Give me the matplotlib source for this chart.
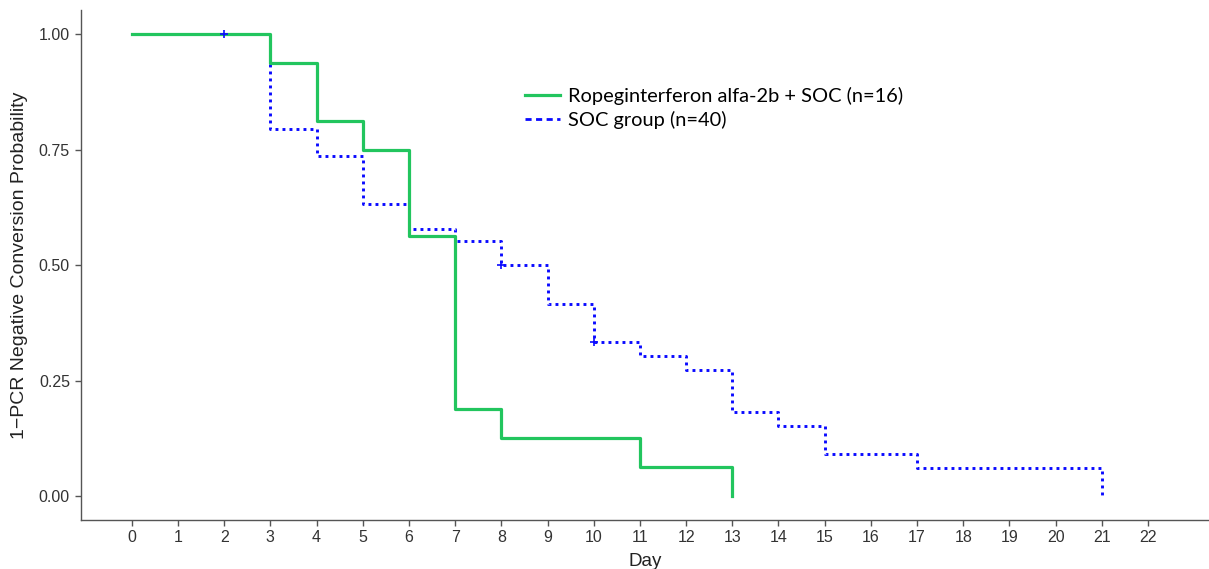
import numpy as np
import matplotlib
matplotlib.use("Agg")
import matplotlib.pyplot as plt
from matplotlib.lines import Line2D

# ── Kaplan-Meier style data ───────────────────────────────────────
rope_days = [0, 3, 4, 5, 6, 7, 8, 11, 13]
rope_surv = [1.0, 0.9375, 0.8125, 0.75, 0.5625, 0.1875, 0.125, 0.0625, 0.0]

soc_days = [0, 3, 4, 5, 6, 7, 8, 9, 10, 11, 12, 13, 14, 15, 17, 21]
soc_surv = [1.0, 0.795, 0.737, 0.632, 0.579, 0.553, 0.50, 0.415, 0.333,
            0.303, 0.272, 0.182, 0.152, 0.091, 0.061, 0.0]

soc_censor_days = [2, 8, 10]
soc_censor_surv = [1.0, 0.50, 0.333]

rope_label = "Ropeginterferon alfa-2b + SOC (n=16)"
soc_label = "SOC group (n=40)"

green = "#22c55e"
blue = "#0a0aff"
grey = "#555555"

plt.rcParams['font.family'] = ['Liberation Sans', 'DejaVu Sans']

fig = plt.figure(figsize=(12.09, 5.69), dpi=100)
ax = fig.add_axes([0.067, 0.086, 0.933, 0.896])

# SOC first so the green curve sits on top where they overlap
ax.step(soc_days, soc_surv, where='post', color=blue, linewidth=2.1,
        linestyle=(0, (1, 1.4)), zorder=2)
ax.plot(soc_censor_days, soc_censor_surv, '+', color=blue,
        markersize=6, markeredgewidth=1.2, zorder=4)
ax.step(rope_days, rope_surv, where='post', color=green, linewidth=2.3,
        zorder=3)

ax.set_xlim(-1.10, 23.32)
ax.set_ylim(-0.052, 1.052)
ax.set_xticks(range(0, 23))
ax.set_yticks([0, 0.25, 0.5, 0.75, 1.0])
ax.set_yticklabels(["0.00", "0.25", "0.50", "0.75", "1.00"])

for side in ['top', 'right']:
    ax.spines[side].set_visible(False)
for side in ['left', 'bottom']:
    ax.spines[side].set_color(grey)
    ax.spines[side].set_linewidth(1.0)
ax.tick_params(axis='both', colors=grey, length=4, width=1,
               labelsize=11.5, labelcolor="#333333")
ax.tick_params(axis='x', pad=3)
ax.tick_params(axis='y', pad=4)

ax.set_xlabel("Day", fontsize=13.5, color="#222222", labelpad=6)
ax.set_ylabel("1\u2212PCR Negative Conversion Probability", fontsize=14,
              color="#222222", labelpad=8)

handles = [Line2D([], [], color=green, linewidth=2.3),
           Line2D([], [], color=blue, linewidth=2.0, linestyle=(0, (2.2, 1.6)))]
ax.legend(handles, [rope_label, soc_label], loc='upper left',
          bbox_to_anchor=(0.378, 0.884), frameon=False, handlelength=1.75,
          handletextpad=0.4, labelspacing=0.25,
          prop={'family': 'Lato', 'size': 14.4})

fig.savefig("out.png", dpi=100)
